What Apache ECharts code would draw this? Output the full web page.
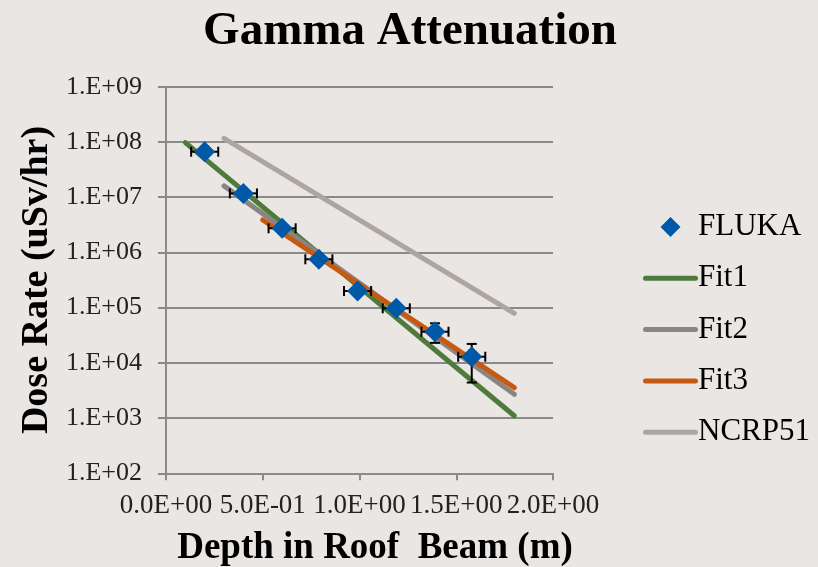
<!DOCTYPE html>
<html>
<head>
<meta charset="utf-8">
<script src="https://cdn.jsdelivr.net/npm/echarts@6/dist/echarts.min.js"></script>
<style>
  html, body { margin: 0; padding: 0; background: #E9E6E3; }
  #chart { width: 818px; height: 567px; }
</style>
</head>
<body>
<div id="chart"></div>
<script>
// ---- data ----
var depth     = [0.20, 0.40, 0.60, 0.79, 0.99, 1.19, 1.39, 1.58];
var dose      = [6.65e7, 1.17e7, 2.73e6, 7.5e5, 2.0e5, 9.7e4, 3.66e4, 1.29e4];
var depthErr  = [0.07, 0.07, 0.07, 0.07, 0.07, 0.07, 0.07, 0.07];
var doseLow   = [6.0e7, 1.05e7, 2.45e6, 6.7e5, 1.8e5, 8.6e4, 2.3e4, 4.4e3];
var doseHigh  = [7.3e7, 1.3e7, 3.0e6, 8.3e5, 2.2e5, 1.08e5, 5.2e4, 2.2e4];

var fit1X = [0.1, 1.8];   var fit1Y = [9.7e7, 1.1e3];
var fit2X = [0.3, 1.8];   var fit2Y = [1.6e7, 2.7e3];
var fit3X = [0.5, 1.8];   var fit3Y = [3.86e6, 3.55e3];
var ncrpX = [0.3, 1.8];   var ncrpY = [1.16e8, 7.9e4];

var xTicks = ['0.0E+00', '5.0E-01', '1.0E+00', '1.5E+00', '2.0E+00'];
var seriesNames = ['FLUKA', 'Fit1', 'Fit2', 'Fit3', 'NCRP51'];

// ---- build ----
function pairs(xs, ys) { return xs.map(function (x, i) { return [x, ys[i]]; }); }
var font = '"Liberation Serif", "DejaVu Serif", serif';
var errData = depth.map(function (d, i) { return [d, dose[i], depthErr[i], doseLow[i], doseHigh[i]]; });

var diamondIcon = 'path://M10,0 L20,10 L10,20 L0,10 Z';
var lineIcon = 'path://M2.5,0 L52.5,0 A2.5,2.5 0 0 1 52.5,5 L2.5,5 A2.5,2.5 0 0 1 2.5,0 Z';

function lineSeries(name, xs, ys, color) {
  return {
    name: name, type: 'line', data: pairs(xs, ys), symbol: 'none', showSymbol: false,
    lineStyle: { color: color, width: 5, cap: 'round' }, itemStyle: { color: color },
    z: 2, animation: false
  };
}

var chart = echarts.init(document.getElementById('chart'), null, { renderer: 'canvas' });
chart.setOption({
  backgroundColor: '#E9E6E3',
  animation: false,
  title: [
    { text: 'Gamma Attenuation', left: 405, top: 3, textAlign: 'center',
      textStyle: { fontFamily: font, fontWeight: 'bold', fontSize: 47, color: '#000' } },
    { text: 'Depth in Roof  Beam (m)', left: 370, top: 525, textAlign: 'center',
      textStyle: { fontFamily: font, fontWeight: 'bold', fontSize: 37, color: '#000' } }
  ],
  grid: { left: 166, right: 265, top: 86.7, bottom: 93.7, containLabel: false },
  legend: {
    orient: 'vertical', left: 638, top: 205, itemWidth: 55, itemHeight: 20, itemGap: 17.3,
    symbolKeepAspect: true,
    data: seriesNames.map(function (n, i) {
      return { name: n, icon: i === 0 ? diamondIcon : lineIcon };
    }),
    textStyle: { fontFamily: font, fontSize: 31, color: '#000', lineHeight: 34, padding: [0, 0, 0, -5] }
  },
  xAxis: {
    type: 'value', min: 0, max: 2, interval: 0.5,
    axisLine: { show: true, onZero: false, lineStyle: { color: '#8A8A8A', width: 2 } },
    axisTick: { show: true, length: 7, lineStyle: { color: '#8A8A8A', width: 2 } },
    splitLine: { show: false },
    axisLabel: {
      margin: 19, fontFamily: font, fontSize: 27, color: '#222',
      formatter: function (v) { return xTicks[Math.round(v / 0.5)]; }
    }
  },
  yAxis: {
    type: 'log', logBase: 10, min: 1e2, max: 1e9,
    name: 'Dose Rate (uSv/hr)', nameLocation: 'middle', nameGap: 110,
    nameTextStyle: { fontFamily: font, fontWeight: 'bold', fontSize: 38, color: '#000' },
    axisLine: { show: true, lineStyle: { color: '#8A8A8A', width: 2 } },
    axisTick: { show: true, length: 8, lineStyle: { color: '#8A8A8A', width: 2 } },
    splitLine: { show: true, lineStyle: { color: '#8A8A8A', width: 2 } },
    axisLabel: {
      margin: 24, fontFamily: font, fontSize: 26, color: '#222',
      formatter: function (v) {
        var e = Math.round(Math.log10(v));
        return '1.E+' + (e < 10 ? '0' : '') + e;
      }
    }
  },
  series: [
    {
      name: 'FLUKA', type: 'scatter', data: pairs(depth, dose),
      symbol: 'diamond', symbolSize: 21, itemStyle: { color: '#0058A8', opacity: 1 }, z: 5
    },
    lineSeries('Fit1', fit1X, fit1Y, '#4E7A3C'),
    lineSeries('Fit2', fit2X, fit2Y, '#8C8480'),
    lineSeries('Fit3', fit3X, fit3Y, '#C65A11'),
    lineSeries('NCRP51', ncrpX, ncrpY, '#ADA5A0'),
    {
      name: 'err', type: 'custom', data: errData, z: 4, silent: true,
      renderItem: function (params, api) {
        var x = api.value(0), y = api.value(1), dx = api.value(2), lo = api.value(3), hi = api.value(4);
        var pl = api.coord([x - dx, y]), pr = api.coord([x + dx, y]);
        var pt = api.coord([x, hi]), pb = api.coord([x, lo]);
        var c = 5;
        var st = { stroke: '#000', lineWidth: 2, fill: null };
        return {
          type: 'group', children: [
            { type: 'line', shape: { x1: pl[0], y1: pl[1], x2: pr[0], y2: pr[1] }, style: st },
            { type: 'line', shape: { x1: pl[0], y1: pl[1] - c, x2: pl[0], y2: pl[1] + c }, style: st },
            { type: 'line', shape: { x1: pr[0], y1: pr[1] - c, x2: pr[0], y2: pr[1] + c }, style: st },
            { type: 'line', shape: { x1: pt[0], y1: pt[1], x2: pb[0], y2: pb[1] }, style: st },
            { type: 'line', shape: { x1: pt[0] - c, y1: pt[1], x2: pt[0] + c, y2: pt[1] }, style: st },
            { type: 'line', shape: { x1: pb[0] - c, y1: pb[1], x2: pb[0] + c, y2: pb[1] }, style: st }
          ]
        };
      }
    }
  ]
});
</script>
</body>
</html>
